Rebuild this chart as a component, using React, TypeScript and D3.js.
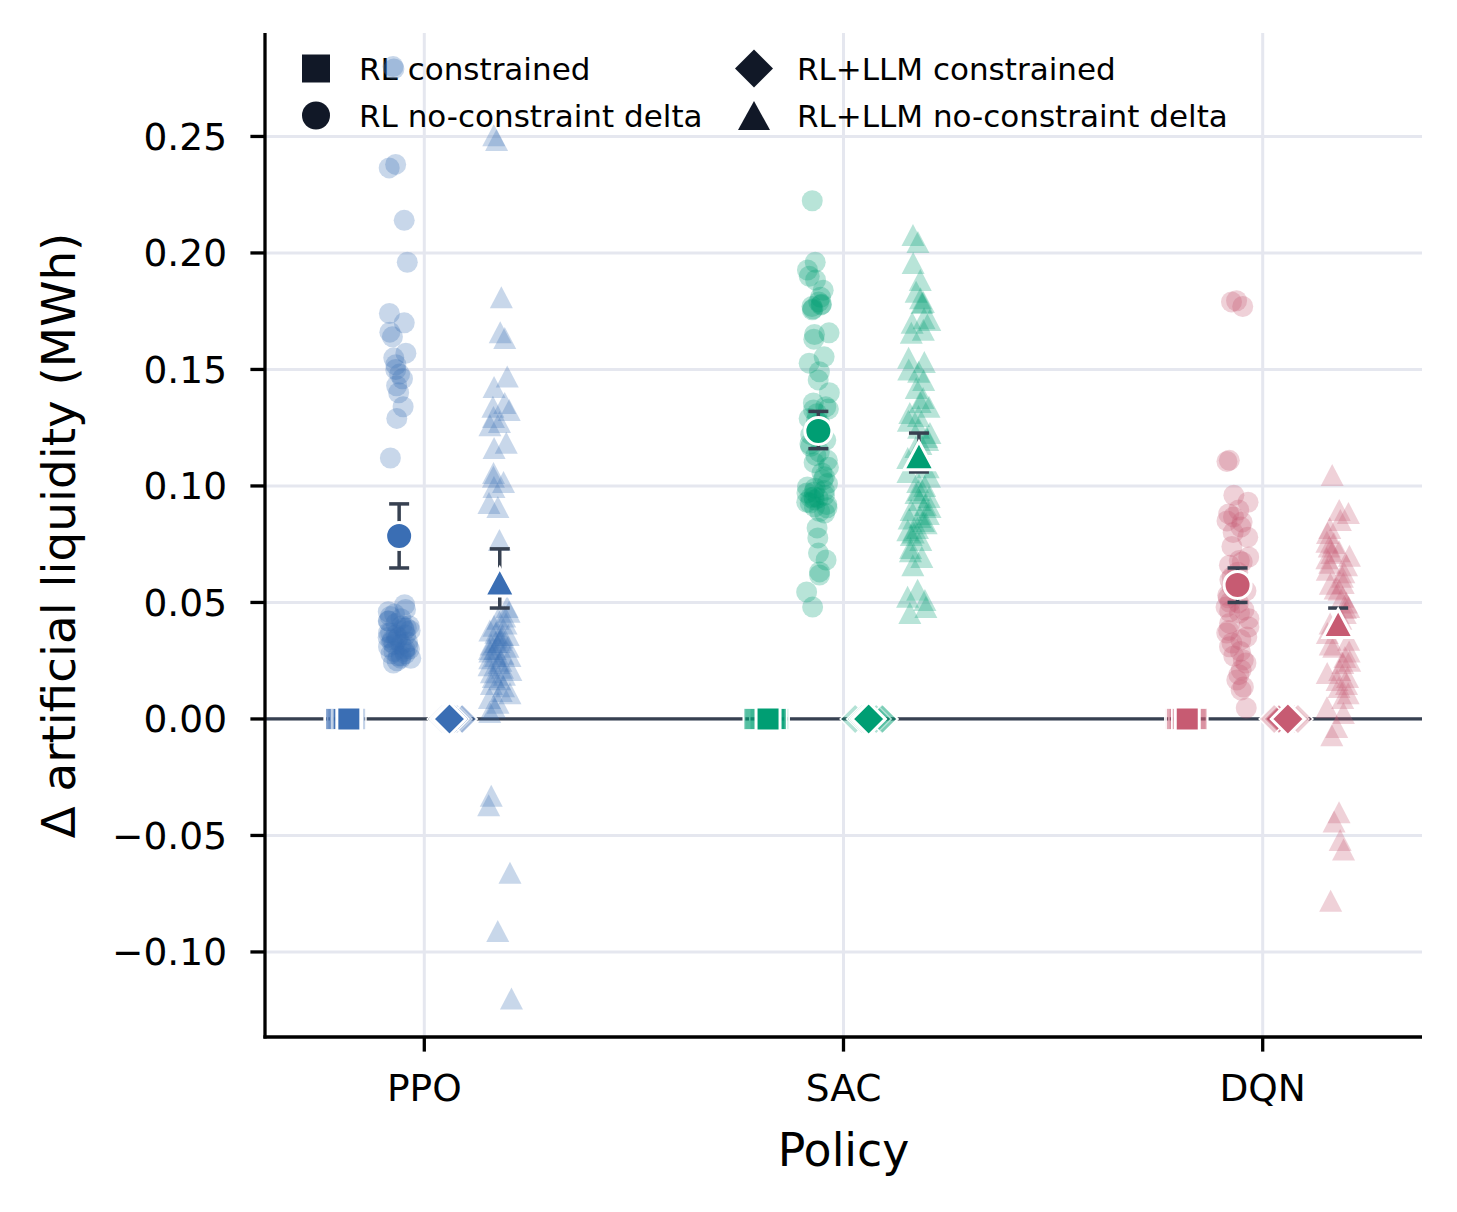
import * as d3 from 'd3'

// categories and colours
const policies = ['PPO', 'SAC', 'DQN']
const policyColours = ['#3A6EB4', '#009E73', '#C75B72']
const yTicks = [-0.1, -0.05, 0, 0.05, 0.1, 0.15, 0.2, 0.25]

// per-episode deltas (MWh)
const ppoRLDelta = [
    0.280, 0.279, 0.238, 0.2365, 0.214, 0.196, 0.174, 0.170, 0.166, 0.164, 0.157, 0.155,
    0.152, 0.150, 0.148, 0.146, 0.143, 0.140, 0.134, 0.129, 0.112,
    0.049, 0.047, 0.046, 0.045, 0.044, 0.043, 0.042, 0.041, 0.040, 0.039, 0.038, 0.038,
    0.037, 0.036, 0.036, 0.035, 0.034, 0.033, 0.033, 0.032, 0.031, 0.030, 0.030, 0.029,
    0.028, 0.027, 0.027, 0.026, 0.025, 0.024, 0.040, 0.035, 0.031, 0.028, 0.037,
    0.042, 0.039, 0.034, 0.032, 0.029, 0.026
]
const ppoLLMDelta = [
    0.2505, 0.2485, 0.181, 0.166, 0.1635, 0.147, 0.1425, 0.1356, 0.134, 0.1326, 0.1296,
    0.1275, 0.126, 0.1185, 0.1163, 0.1056, 0.104, 0.1017, 0.0996, 0.0927, 0.091, 0.0768,
    0.048, 0.046, 0.044, 0.043, 0.041, 0.040, 0.038, 0.037, 0.036, 0.035, 0.034, 0.033,
    0.032, 0.031, 0.030, 0.029, 0.028, 0.027, 0.026, 0.025, 0.024, 0.022, 0.021, 0.020,
    0.018, 0.017, 0.015, 0.014, 0.012, 0.011, 0.009, 0.007, 0.005, 0.003,
    0.036, 0.033, 0.030, 0.027, 0.023, 0.019,
    -0.033, -0.037, -0.066, -0.091, -0.120
]
const sacRLDelta = [
    0.2224, 0.196, 0.1927, 0.190, 0.1884, 0.181, 0.179, 0.178, 0.1777, 0.176, 0.1756,
    0.1657, 0.165, 0.163, 0.1554, 0.1527, 0.149, 0.1455, 0.140, 0.1356, 0.134, 0.1326,
    0.131, 0.129, 0.128, 0.126, 0.122, 0.1197, 0.117, 0.1146, 0.113, 0.111, 0.108, 0.1056,
    0.104, 0.1026, 0.101, 0.0996, 0.098, 0.0974, 0.097, 0.096, 0.0953, 0.0948, 0.094,
    0.0927, 0.092, 0.091, 0.0906, 0.0884, 0.082, 0.0777, 0.0712, 0.0682, 0.0631, 0.0618,
    0.0545, 0.048,
    0.184, 0.177, 0.133, 0.127, 0.118, 0.110, 0.099, 0.095, 0.093, 0.089
]
const sacLLMDelta = [
    0.2077, 0.2047, 0.1957, 0.1884, 0.1833, 0.1806, 0.179, 0.1785, 0.172, 0.1712, 0.167,
    0.1657, 0.155, 0.1532, 0.149, 0.1455, 0.142, 0.1377, 0.136, 0.134, 0.1313, 0.128,
    0.125, 0.1227, 0.121, 0.1197, 0.1167, 0.112, 0.108, 0.104, 0.1017, 0.100, 0.0983,
    0.0953, 0.094, 0.0918, 0.0897, 0.088, 0.0867, 0.086, 0.084, 0.082, 0.081, 0.079,
    0.0768, 0.0734, 0.0695, 0.066, 0.0554, 0.0524, 0.051, 0.048, 0.0455,
    0.170, 0.150, 0.130, 0.118, 0.106, 0.097, 0.091, 0.085, 0.080, 0.072
]
const dqnRLDelta = [
    0.179, 0.1795, 0.177, 0.111, 0.1105, 0.096, 0.093, 0.0897, 0.088, 0.0867, 0.0845,
    0.0824, 0.080, 0.074, 0.0695, 0.068, 0.0674, 0.063, 0.061, 0.0597, 0.0584, 0.055,
    0.052, 0.050, 0.0498, 0.048, 0.0468, 0.0455, 0.043, 0.041, 0.0395, 0.0369, 0.0352,
    0.0326, 0.031, 0.029, 0.0253, 0.024, 0.021, 0.0167, 0.0137, 0.0124, 0.0047,
    0.085, 0.078, 0.066, 0.057, 0.053, 0.046, 0.038, 0.034, 0.027, 0.019
]
const dqnLLMDelta = [
    0.1047, 0.0897, 0.0884, 0.0854, 0.0798, 0.0755, 0.074, 0.072, 0.0712, 0.069, 0.067,
    0.066, 0.064, 0.061, 0.0584, 0.058, 0.0554, 0.0524, 0.050, 0.0476, 0.0455, 0.043,
    0.041, 0.0369, 0.034, 0.031, 0.029, 0.0266, 0.024, 0.021, 0.0197, 0.018, 0.0167,
    0.0137, 0.011, 0.009, 0.005, 0.0026, -0.0034, -0.007, -0.040, -0.044, -0.052,
    -0.056, -0.078,
    0.082, 0.076, 0.070, 0.063, 0.056, 0.048, 0.039, 0.032, 0.025, 0.015
]
// constrained runs never move the liquidity
const ppoRLConstrained = [0, 0, 0, 0, 0, 0, 0, 0, 0, 0, 0, 0]
const sacRLConstrained = [0, 0, 0, 0, 0, 0, 0, 0, 0, 0, 0, 0]
const dqnRLConstrained = [0, 0, 0, 0, 0, 0, 0, 0, 0, 0, 0, 0]
const ppoLLMConstrained = [0, 0, 0, 0, 0, 0, 0, 0, 0, 0, 0, 0]
const sacLLMConstrained = [0, 0, 0, 0, 0, 0, 0, 0, 0, 0, 0, 0]
const dqnLLMConstrained = [0, 0, 0, 0, 0, 0, 0, 0, 0, 0, 0, 0]

// summary markers: mean and 95% CI per policy
const rlConstrainedMean = [0, 0, 0]
const llmConstrainedMean = [0, 0, 0]
const rlDeltaMean = [0.0785, 0.1236, 0.0575]
const rlDeltaLo = [0.0648, 0.116, 0.050]
const rlDeltaHi = [0.0923, 0.132, 0.0648]
const llmDeltaMean = [0.0588, 0.113, 0.041]
const llmDeltaLo = [0.0476, 0.106, 0.036]
const llmDeltaHi = [0.073, 0.1227, 0.0476]

const legendItems = ['RL constrained', 'RL no-constraint delta', 'RL+LLM constrained', 'RL+LLM no-constraint delta']

const rlDelta = [ppoRLDelta, sacRLDelta, dqnRLDelta]
const llmDelta = [ppoLLMDelta, sacLLMDelta, dqnLLMDelta]
const rlConstrained = [ppoRLConstrained, sacRLConstrained, dqnRLConstrained]
const llmConstrained = [ppoLLMConstrained, sacLLMConstrained, dqnLLMConstrained]

const svgWidth = 1457
const svgHeight = 1212
const plot = { left: 265, right: 1422, top: 33, bottom: 1037 }
const font = 'DejaVu Sans'
const dark = '#111827'
const barColour = '#374151'
const gridColour = '#E5E7EF'

const offsets = { rlCons: -0.18, rlDelta: -0.06, llmCons: 0.06, llmDelta: 0.18 }

const square = (s: number) => `M${-s / 2},${-s / 2}h${s}v${s}h${-s}Z`
const diamond = (d: number) => `M0,${-d}L${d},0L0,${d}L${-d},0Z`
const triangle = (w: number, h: number) => `M0,${-h / 2}L${w / 2},${h / 2}L${-w / 2},${h / 2}Z`

const jitter = (n: number, seed: number, spread: number) => {
    const rand = d3.randomLcg(seed)
    return d3.range(n).map(() => (rand() - 0.5) * 2 * spread)
}

const App = () => {
    const x = d3.scaleLinear().domain([-0.38, 2.38]).range([plot.left, plot.right])
    const y = d3.scaleLinear().domain([-0.1365, 0.2944]).range([plot.bottom, plot.top])
    const fmt = d3.format('.2f')

    const grid = (
        <g>
            {yTicks.map(t => (
                <line key={'h' + t} x1={plot.left} x2={plot.right} y1={y(t)} y2={y(t)}
                    stroke={gridColour} strokeWidth={3} />
            ))}
            {policies.map((p, i) => (
                <line key={'v' + p} x1={x(i)} x2={x(i)} y1={plot.top} y2={plot.bottom}
                    stroke={gridColour} strokeWidth={3} />
            ))}
        </g>
    )

    const points = policies.map((p, i) => {
        const colour = policyColours[i]
        const jc = jitter(rlDelta[i].length, 11 + i, 0.028)
        const jt = jitter(llmDelta[i].length, 23 + i, 0.028)
        const js = jitter(rlConstrained[i].length, 37 + i, 0.035)
        const jd = jitter(llmConstrained[i].length, 51 + i, 0.035)
        return (
            <g key={p}>
                {rlDelta[i].map((v, k) => (
                    <circle key={'c' + k} cx={x(i + offsets.rlDelta + jc[k])} cy={y(v)} r={10.5}
                        fill={colour} fillOpacity={0.28} />
                ))}
                {llmDelta[i].map((v, k) => (
                    <path key={'t' + k} d={triangle(23, 22)}
                        transform={`translate(${x(i + offsets.llmDelta + jt[k])},${y(v)})`}
                        fill={colour} fillOpacity={0.28} />
                ))}
                {rlConstrained[i].map((v, k) => (
                    <path key={'s' + k} d={square(22)}
                        transform={`translate(${x(i + offsets.rlCons + js[k])},${y(v)})`}
                        fill={colour} fillOpacity={0.3} stroke='white' strokeWidth={1.5} />
                ))}
                {llmConstrained[i].map((v, k) => (
                    <path key={'d' + k} d={diamond(15)}
                        transform={`translate(${x(i + offsets.llmCons + jd[k])},${y(v)})`}
                        fill={colour} fillOpacity={0.3} stroke='white' strokeWidth={1.5} />
                ))}
            </g>
        )
    })

    const errorBars = policies.map((p, i) => {
        const bars = [
            { cx: x(i + offsets.rlDelta), lo: rlDeltaLo[i], hi: rlDeltaHi[i] },
            { cx: x(i + offsets.llmDelta), lo: llmDeltaLo[i], hi: llmDeltaHi[i] }
        ]
        return (
            <g key={p} stroke={barColour} strokeWidth={3.5}>
                {bars.map((b, k) => (
                    <g key={k}>
                        <line x1={b.cx} x2={b.cx} y1={y(b.lo)} y2={y(b.hi)} />
                        <line x1={b.cx - 10} x2={b.cx + 10} y1={y(b.lo)} y2={y(b.lo)} />
                        <line x1={b.cx - 10} x2={b.cx + 10} y1={y(b.hi)} y2={y(b.hi)} />
                    </g>
                ))}
            </g>
        )
    })

    const means = policies.map((p, i) => {
        const colour = policyColours[i]
        return (
            <g key={p} fill={colour} stroke='white' strokeWidth={3}>
                <path d={square(24)} transform={`translate(${x(i + offsets.rlCons)},${y(rlConstrainedMean[i])})`} />
                <path d={diamond(16.5)} transform={`translate(${x(i + offsets.llmCons)},${y(llmConstrainedMean[i])})`} />
                <circle cx={x(i + offsets.rlDelta)} cy={y(rlDeltaMean[i])} r={13.5} />
                <path d={triangle(30, 28)} transform={`translate(${x(i + offsets.llmDelta)},${y(llmDeltaMean[i])})`} />
            </g>
        )
    })

    const legendMarkers = [
        <path d={square(28)} fill={dark} />,
        <circle r={14} fill={dark} />,
        <path d={diamond(19)} fill={dark} />,
        <path d={triangle(32, 29)} fill={dark} />
    ]
    const legend = legendItems.map((label, k) => {
        const col = Math.floor(k / 2)
        const row = k % 2
        const mx = col === 0 ? 316 : 754
        const my = row === 0 ? 68.5 : 115.5
        return (
            <g key={label}>
                <g transform={`translate(${mx},${my})`}>{legendMarkers[k]}</g>
                <text x={mx + 43} y={my + 11} fontSize={31} fontFamily={font} fill='black'>{label}</text>
            </g>
        )
    })

    const axes = (
        <g>
            <line x1={plot.left} x2={plot.left} y1={plot.top} y2={plot.bottom + 1.6} stroke='black' strokeWidth={3.3} />
            <line x1={plot.left - 1.6} x2={plot.right} y1={plot.bottom} y2={plot.bottom} stroke='black' strokeWidth={3.3} />
            {yTicks.map(t => (
                <g key={t}>
                    <line x1={plot.left - 14.6} x2={plot.left} y1={y(t)} y2={y(t)} stroke='black' strokeWidth={3.3} />
                    <text x={227} y={y(t)} dy='0.36em' textAnchor='end' fontSize={37.5} fontFamily={font} fill='black'>
                        {fmt(t)}
                    </text>
                </g>
            ))}
            {policies.map((p, i) => (
                <g key={p}>
                    <line x1={x(i)} x2={x(i)} y1={plot.bottom} y2={plot.bottom + 14.6} stroke='black' strokeWidth={3.3} />
                    <text x={x(i)} y={1101} textAnchor='middle' fontSize={37.5} fontFamily={font} fill='black'>{p}</text>
                </g>
            ))}
            <text x={x(1)} y={1166} textAnchor='middle' fontSize={45.8} fontFamily={font} fill='black'>Policy</text>
            <text transform={`translate(75,${(233 + 838) / 2}) rotate(-90)`} textAnchor='middle'
                fontSize={46.8} fontFamily={font} fill='black'>Δ artificial liquidity (MWh)</text>
        </g>
    )

    return (
        <svg width={svgWidth} height={svgHeight} style={{ position: 'absolute', left: 0, top: 0, background: 'white' }}>
            {grid}
            {legend}
            <line x1={plot.left} x2={plot.right} y1={y(0)} y2={y(0)} stroke={barColour} strokeWidth={3.3} />
            {points}
            {errorBars}
            {means}
            {axes}
        </svg>
    )
}

export default App
